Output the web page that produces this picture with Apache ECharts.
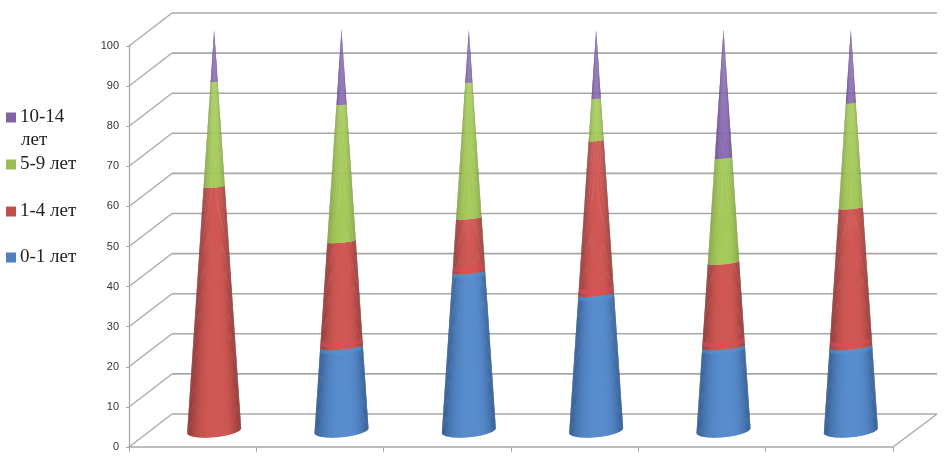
<!DOCTYPE html>
<html><head><meta charset="utf-8">
<style>html,body{margin:0;padding:0;background:#fff}#c{width:946px;height:456px}</style>
<script src="https://cdn.jsdelivr.net/npm/echarts@6/dist/echarts.min.js"></script>
</head><body><div id="c"></div>
<script>
const categories = ['1','2','3','4','5','6'];
const age01  = [0, 21, 39.5, 34, 21, 21];
const age14  = [60.8, 26.2, 13.5, 38.3, 20.9, 34.5];
const age59  = [26.2, 34.1, 33.8, 10.5, 26.1, 26.2];
const age1014= [13, 18.7, 13.2, 17.2, 32, 18.3];
const yTicks = [0,10,20,30,40,50,60,70,80,90,100];
const seriesNames = ['0-1 лет','1-4 лет','5-9 лет','10-14 лет'];

const DX=43, DY=-33, CX=21.5, CY=-16.5, R=27, TILT=0.09;
const palette = [
  {dark:[50,90,142], light:[88,140,205], flat:'#4f81bd', band:'#4f9ad8'},
  {dark:[138,56,54], light:[208,88,84], flat:'#c0504d', band:'#e8485a'},
  {dark:[126,158,64], light:[165,202,90], flat:'#9bbb59', band:null},
  {dark:[90,66,128], light:[136,104,176], flat:'#8064a2', band:null}
];
function shade(p,u){
  const d=Math.abs(u-0.12)/(u>0.12?0.88:1.12);
  const k=Math.pow(d,3);
  const c=p.dark.map((v,i)=>Math.round(p.light[i]+(v-p.light[i])*k));
  return 'rgb('+c.join(',')+')';
}
function conePoint(cx,cy,r,t){
  const q=r/R, minor=0.08+0.17*q*q*q;
  return [cx+r*Math.cos(t), cy+r*minor*Math.sin(t)-r*TILT*Math.cos(t)];
}
function coneRender(colorIndex){
  return function(params,api){
    const cat=api.value(0), v0=api.value(1), v1=api.value(2);
    if(v1<=v0) return {type:'group',children:[]};
    const a=api.coord([cat,v0]), b=api.coord([cat,v1]);
    const cx=a[0]+CX, y0=a[1]+CY, y1=b[1]+CY;
    const radius=v=>R*(1-v/100);
    const r0=radius(v0), r1=radius(v1);
    const children=[], N=40, p=palette[colorIndex];
    for(let i=0;i<N;i++){
      // each strip overlaps the next one, so no seams show
      const t0=Math.PI*i/N, t1=Math.PI*Math.min(i+1.6,N)/N, tm=Math.PI*(i+0.5)/N;
      children.push({type:'polygon',shape:{points:[
        conePoint(cx,y0,r0,t0),conePoint(cx,y0,r0,t1),
        conePoint(cx,y1,r1,t1),conePoint(cx,y1,r1,t0)]},
        style:{fill:shade(p,Math.cos(tm))}});
    }
    if(p.band && v0<100){
      const bA=colorIndex===0?v1-1:v0+0.6, bB=colorIndex===0?v1:v0+1.8;
      if(colorIndex===0||v0>0){
        const ya=api.coord([cat,bA])[1]+CY, yb=api.coord([cat,bB])[1]+CY, ra=radius(bA), rb=radius(bB), pts=[];
        for(let i=0;i<=N;i++) pts.push(conePoint(cx,ya,ra*0.97,Math.PI*i/N));
        for(let i=N;i>=0;i--) pts.push(conePoint(cx,yb,rb*0.97,Math.PI*i/N));
        children.push({type:'polygon',shape:{points:pts},style:{fill:p.band,opacity:0.45}});
      }
    }
    return {type:'group',children};
  };
}
function wallRender(params,api){
  const v=api.value(0), cs=params.coordSys, y=api.coord([0,v])[1];
  const L=cs.x, Rt=cs.x+cs.width;
  const children=[{type:'polyline',shape:{points:[[L,y],[L+DX,y+DY]]},style:{fill:'none',stroke:'#a8a8a8',lineWidth:1.3}},
    {type:'polyline',shape:{points:[[L+DX,y+DY],[Rt+DX+1,y+DY]]},style:{fill:'none',stroke:'#a8a8a8',lineWidth:1.6}}];
  if(v===0) children.push({type:'polyline',shape:{points:[[Rt,y],[Rt+DX+1,y+DY]]},style:{fill:'none',stroke:'#a8a8a8',lineWidth:1.3}});
  return {type:'group',children};
}
let acc=categories.map(()=>0);
const groups=[age01,age14,age59,age1014];
const coneSeries=groups.map((vals,gi)=>{
  const data=vals.map((v,i)=>{const s=acc[i];acc[i]+=v;return [i,s,acc[i]];});
  return {name:seriesNames[gi],type:'custom',z:5,renderItem:coneRender(gi),encode:{x:0,y:[1,2]},data,
    itemStyle:{color:palette[gi].flat},silent:true};
});
const legendTop={'10-14 лет':108,'5-9 лет':155,'1-4 лет':202,'0-1 лет':248};
const chart=echarts.init(document.getElementById('c'),null,{renderer:'canvas'});
chart.setOption({
  animation:false,
  backgroundColor:'#fff',
  grid:{left:129,top:46,width:764,height:401,containLabel:false},
  legend:seriesNames.map(n=>({
    data:[n],left:6,top:legendTop[n],padding:0,itemWidth:10,itemHeight:10,itemGap:0,icon:'rect',
    formatter:x=>x==='10-14 лет'?'10-14':x,
    selectedMode:false,
    textStyle:{fontFamily:'Liberation Serif',fontSize:19,color:'#222',padding:[0,0,0,-1]}
  })),
  xAxis:{type:'category',data:categories,boundaryGap:true,
    axisLine:{lineStyle:{color:'#a8a8a8',width:1.6}},
    axisTick:{show:true,length:5,alignWithLabel:false,lineStyle:{color:'#a8a8a8'}},
    axisLabel:{show:false},splitLine:{show:false}},
  yAxis:{type:'value',min:0,max:100,interval:10,
    axisLine:{show:true,lineStyle:{color:'#a8a8a8',width:1.3}},
    axisTick:{show:true,length:3,lineStyle:{color:'#a8a8a8'}},
    axisLabel:{fontFamily:'Liberation Sans',fontSize:11,color:'#333',margin:10},
    splitLine:{show:false}},
  graphic:[{type:'text',left:21,top:131,style:{text:'лет',font:'19px "Liberation Serif"',fill:'#222'}}],
  series:[{type:'custom',z:1,silent:true,renderItem:wallRender,encode:{y:0},data:yTicks.map(v=>[v]),
    xAxisIndex:0,yAxisIndex:0,clip:false}].concat(coneSeries)
});
</script></body></html>
